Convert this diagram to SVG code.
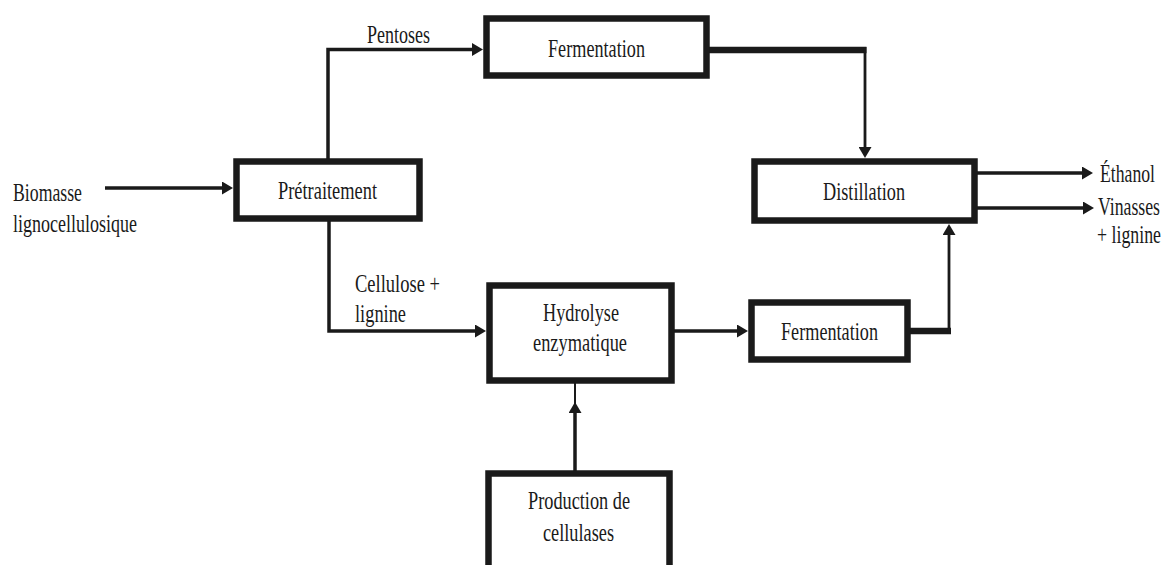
<svg xmlns="http://www.w3.org/2000/svg" width="1165" height="565" viewBox="0 0 1165 565">
  <defs>
    <style>
      .box { fill: #ffffff; stroke: #1a1a1a; stroke-width: 6.5; }
      .lbl { font-family: "Liberation Serif", "Times New Roman", serif; font-size: 26px; fill: #1a1a1a; }
      .end { text-anchor: end; }
      .wire { fill: none; stroke: #1a1a1a; stroke-width: 3.5; stroke-linejoin: miter; }
      .wire-thin { fill: none; stroke: #1a1a1a; stroke-width: 2.8; }
      .wire-bold { fill: none; stroke: #1a1a1a; stroke-width: 6.5; }
    </style>
    <marker id="arrow" markerUnits="userSpaceOnUse" markerWidth="12" markerHeight="13" refX="3" refY="6.5" orient="auto">
      <path d="M0,0 L11,6.5 L0,13 Z" fill="#1a1a1a"/>
    </marker>
  </defs>
  <rect width="1165" height="565" fill="#ffffff"/>

  <!-- flow connectors -->
  <g id="connectors">
    <path class="wire" d="M105 188 H225" marker-end="url(#arrow)"/>
    <path class="wire" d="M328 160 V49.5 H475" marker-end="url(#arrow)"/>
    <path class="wire-bold" d="M708 50 H866.5"/>
    <path class="wire-thin" d="M865 47 V150" marker-end="url(#arrow)"/>
    <path class="wire" d="M329 220 V331 H478" marker-end="url(#arrow)"/>
    <path class="wire" d="M673 331 H740" marker-end="url(#arrow)"/>
    <path class="wire-bold" d="M909 331 H951"/>
    <path class="wire-thin" d="M949 334 V232" marker-end="url(#arrow)"/>
    <path class="wire" d="M976 173 H1085" marker-end="url(#arrow)"/>
    <path class="wire" d="M976 208 H1086" marker-end="url(#arrow)"/>
    <path class="wire-thin" d="M575 430 V382" style="stroke-width:2"/>
    <path class="wire" d="M575 472 V410" marker-end="url(#arrow)"/>
  </g>

  <!-- free labels -->
  <g id="inputs">
    <text class="lbl" x="13" y="201" textLength="69" lengthAdjust="spacingAndGlyphs">Biomasse</text>
    <text class="lbl" x="13" y="232" textLength="124" lengthAdjust="spacingAndGlyphs">lignocellulosique</text>
  </g>
  <g id="label-pentoses">
    <text class="lbl" x="367" y="43" textLength="63" lengthAdjust="spacingAndGlyphs">Pentoses</text>
  </g>
  <g id="label-cellulose">
    <text class="lbl" x="355" y="292" textLength="85" lengthAdjust="spacingAndGlyphs">Cellulose +</text>
    <text class="lbl" x="355" y="322" textLength="51" lengthAdjust="spacingAndGlyphs">lignine</text>
  </g>
  <g id="outputs">
    <text class="lbl end" x="1155" y="182" textLength="55" lengthAdjust="spacingAndGlyphs">Éthanol</text>
    <text class="lbl end" x="1160" y="215" textLength="62" lengthAdjust="spacingAndGlyphs">Vinasses</text>
    <text class="lbl end" x="1161" y="243" textLength="64" lengthAdjust="spacingAndGlyphs">+ lignine</text>
  </g>

  <!-- process steps -->
  <g id="pretraitement">
    <rect class="box" x="236.5" y="161.5" width="183" height="57"/>
    <text class="lbl" x="278" y="199" textLength="99" lengthAdjust="spacingAndGlyphs">Prétraitement</text>
  </g>
  <g id="fermentation-pentoses">
    <rect class="box" x="486.5" y="18.5" width="220" height="57"/>
    <text class="lbl" x="548" y="57" textLength="97" lengthAdjust="spacingAndGlyphs">Fermentation</text>
  </g>
  <g id="distillation">
    <rect class="box" x="754.5" y="161.5" width="220" height="59"/>
    <text class="lbl" x="823" y="200" textLength="82" lengthAdjust="spacingAndGlyphs">Distillation</text>
  </g>
  <g id="hydrolyse">
    <rect class="box" x="489.5" y="285.5" width="182" height="95"/>
    <text class="lbl" x="543" y="321" textLength="76" lengthAdjust="spacingAndGlyphs">Hydrolyse</text>
    <text class="lbl" x="533" y="351" textLength="94" lengthAdjust="spacingAndGlyphs">enzymatique</text>
  </g>
  <g id="fermentation-glucose">
    <rect class="box" x="751.5" y="302.5" width="156" height="57"/>
    <text class="lbl" x="781" y="340" textLength="97" lengthAdjust="spacingAndGlyphs">Fermentation</text>
  </g>
  <g id="production-cellulases">
    <rect class="box" x="488.5" y="473.5" width="181" height="120"/>
    <text class="lbl" x="528" y="509" textLength="102" lengthAdjust="spacingAndGlyphs">Production de</text>
    <text class="lbl" x="543" y="541" textLength="71" lengthAdjust="spacingAndGlyphs">cellulases</text>
  </g>
</svg>
